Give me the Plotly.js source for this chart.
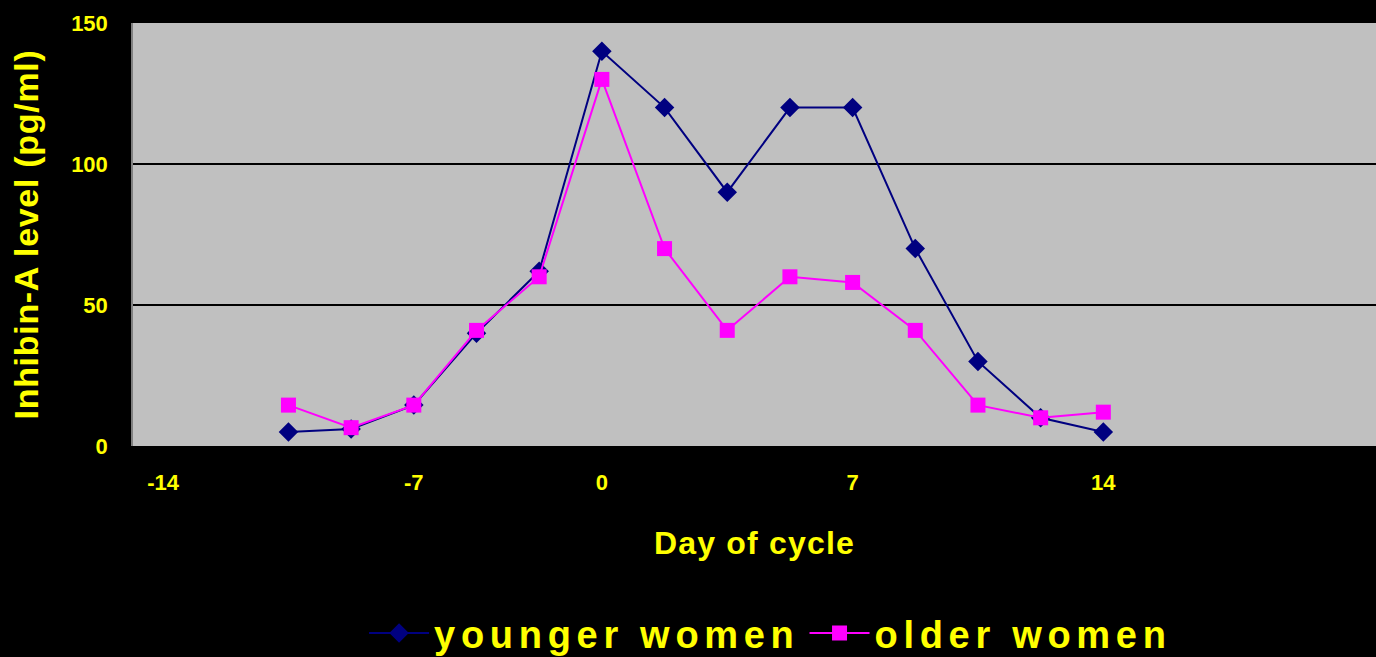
<!DOCTYPE html>
<html>
<head>
<meta charset="utf-8">
<script src="https://cdn.plot.ly/plotly-3.0.1.min.js"></script>
<style>
  html, body { margin: 0; padding: 0; background: #000; }
  #plot { width: 1376px; height: 657px; }
  .legendtext { letter-spacing: 5.7px; }
  .ytitle { letter-spacing: 0.7px; }
  .xtitle { letter-spacing: 1.2px; }
</style>
</head>
<body>
<div id="plot"></div>
<script>
// category slots along the x axis, only some carry a label
const slotLabels = ['-14', '', '', '', '-7', '', '', '0', '', '', '', '7', '', '', '', '14', '', '', '', ''];
const sampleSlots = [2, 3, 4, 5, 6, 7, 8, 9, 10, 11, 12, 13, 14, 15];

const youngerWomen = [5, 6, 14.5, 40, 62, 140, 120, 90, 120, 120, 70, 30, 10, 5];
const olderWomen = [14.5, 6.5, 14.5, 41, 60, 130, 70, 41, 60, 58, 41, 14.5, 10, 12];

const tickPos = [];
const tickText = [];
slotLabels.forEach(function (lab, i) {
    if (lab !== '') {
        tickPos.push(i);
        tickText.push(lab);
    }
});

const yellow = '#ffff00';
const font = 'Arial, "Liberation Sans", sans-serif';

const data = [
    {
        x: sampleSlots,
        y: youngerWomen,
        type: 'scatter',
        mode: 'lines+markers',
        name: 'younger women',
        line: {color: '#000080', width: 2},
        marker: {symbol: 'diamond', size: 15, color: '#000080'}
    },
    {
        x: sampleSlots,
        y: olderWomen,
        type: 'scatter',
        mode: 'lines+markers',
        name: 'older women',
        line: {color: '#ff00ff', width: 2},
        marker: {symbol: 'square', size: 15, color: '#ff00ff'}
    }
];

const layout = {
    width: 1376,
    height: 657,
    paper_bgcolor: '#000000',
    plot_bgcolor: '#c0c0c0',
    margin: {l: 133, r: 0, t: 23, b: 211},
    font: {family: font, color: yellow, size: 22, weight: 'bold'},
    xaxis: {
        range: [-0.48, 19.35],
        tickvals: tickPos,
        ticktext: tickText,
        showgrid: false,
        zeroline: false,
        showline: false,
        ticks: '',
        automargin: false,
        ticklabelstandoff: 21,
        tickfont: {family: font, size: 22, color: yellow, weight: 'bold'},
        title: {
            text: 'Day of cycle',
            font: {family: font, size: 32, color: yellow, weight: 'bold'},
            standoff: 37
        }
    },
    yaxis: {
        range: [0, 150],
        dtick: 50,
        showgrid: true,
        gridcolor: '#000000',
        gridwidth: 1.5,
        zeroline: false,
        showline: true,
        linecolor: '#808080',
        linewidth: 1.5,
        ticks: '',
        automargin: false,
        ticklabelstandoff: 19,
        tickfont: {family: font, size: 22, color: yellow, weight: 'bold'},
        title: {
            text: 'Inhibin-A level (pg/ml)',
            font: {family: font, size: 34, color: yellow, weight: 'bold'},
            standoff: 22
        }
    },
    showlegend: true,
    legend: {
        orientation: 'h',
        x: 0.56,
        xanchor: 'center',
        xref: 'container',
        y: 0.036,
        yanchor: 'middle',
        yref: 'container',
        bgcolor: 'rgba(0,0,0,0)',
        font: {family: font, size: 38, color: yellow, weight: 'bold'},
        itemwidth: 60
    }
};

Plotly.newPlot('plot', data, layout, {displayModeBar: false});
</script>
</body>
</html>
